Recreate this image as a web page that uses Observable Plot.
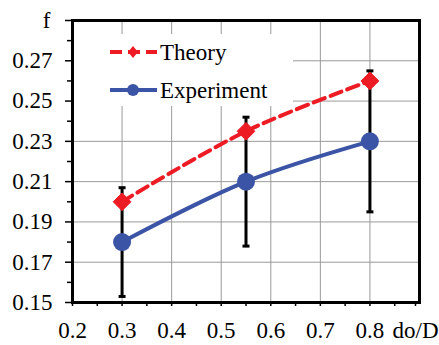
<!DOCTYPE html>
<html>
<head>
<meta charset="utf-8">
<script src="https://cdn.jsdelivr.net/npm/d3@7"></script>
<script src="https://cdn.jsdelivr.net/npm/@observablehq/plot@0.6"></script>
<style>
  html, body { margin: 0; padding: 0; background: white; }
  #wrap { position: relative; width: 439px; height: 345px; }
  #legend { position: absolute; left: 74px; top: 34px; width: 219px; height: 72px; background: white; }
  svg text { font-family: "Liberation Serif", "Times New Roman", serif; }
</style>
</head>
<body>
<div id="wrap"></div>
<script>
// Data
const xVals = [0.3, 0.55, 0.8];
const theory = [0.200, 0.235, 0.260];
const experiment = [0.180, 0.210, 0.230];
const errLow = [0.153, 0.178, 0.195];
const errHigh = [0.207, 0.242, 0.265];

const xTicks = [0.2, 0.3, 0.4, 0.5, 0.6, 0.7, 0.8];
const xTickLabels = ["0.2", "0.3", "0.4", "0.5", "0.6", "0.7", "0.8"];
const xEndTick = [0.9];
const xAxisTitle = "do/D";
const xMinor = [0.25, 0.35, 0.45, 0.55, 0.65, 0.75, 0.85];
const xGrid = [0.3, 0.4, 0.5, 0.6, 0.7, 0.8];
const yTicks = [0.15, 0.17, 0.19, 0.21, 0.23, 0.25, 0.27];
const yTickLabels = ["0.15", "0.17", "0.19", "0.21", "0.23", "0.25", "0.27"];
const yEndTick = [0.29];
const yAxisTitle = "f";
const yMinor = [0.16, 0.18, 0.20, 0.22, 0.24, 0.26, 0.28];
const yGrid = [0.17, 0.19, 0.21, 0.23, 0.25, 0.27];

const seriesNames = ["Theory", "Experiment"];
const seriesColors = ["#ed1c24", "#3b54a5"];

const theoryData = xVals.map((x, i) => ({x, y: theory[i]}));
const expData = xVals.map((x, i) => ({x, y: experiment[i]}));
const errData = xVals.map((x, i) => ({x, lo: errLow[i], hi: errHigh[i]}));

const capSymbol = { draw(ctx) { ctx.moveTo(-3.5, 0); ctx.lineTo(3.5, 0); } };

const FONT = '"Liberation Serif", "Times New Roman", serif';

const chart = Plot.plot({
  width: 439,
  height: 345,
  marginLeft: 72,
  marginRight: 20,
  marginTop: 20,
  marginBottom: 43,
  style: { fontFamily: FONT, fontSize: "23px", color: "black", background: "white" },
  x: { domain: [0.2, 0.9] },
  y: { domain: [0.15, 0.29] },
  marks: [
    Plot.gridX(xGrid, { stroke: "#9a9a9a", strokeOpacity: 1, strokeWidth: 1 }),
    Plot.gridY(yGrid, { stroke: "#9a9a9a", strokeOpacity: 1, strokeWidth: 1 }),
    Plot.axisX({ ticks: xTicks, tickFormat: (d, i) => xTickLabels[i], tickSize: 4, tickPadding: 15, strokeWidth: 1.5, label: null }),
    Plot.axisX({ ticks: xEndTick, tickFormat: () => xAxisTitle, tickSize: 4, tickPadding: 15, strokeWidth: 1.5, dx: -4, label: null }),
    Plot.axisX({ ticks: xMinor, tickFormat: () => "", tickSize: 4, strokeWidth: 1.5, label: null }),
    Plot.axisY({ ticks: yTicks, tickFormat: (d, i) => yTickLabels[i], tickSize: 7, tickPadding: 13, strokeWidth: 1.5, label: null }),
    Plot.axisY({ ticks: yEndTick, tickFormat: () => yAxisTitle, tickSize: 7, tickPadding: 15, strokeWidth: 1.5, label: null }),
    Plot.axisY({ ticks: yMinor, tickFormat: () => "", tickSize: 5, strokeWidth: 1.5, label: null }),
    Plot.ruleX(errData, { x: "x", y1: "lo", y2: "hi", stroke: "black", strokeWidth: 3 }),
    Plot.dot(errData, { x: "x", y: "lo", symbol: capSymbol, stroke: "black", strokeWidth: 3, r: 4 }),
    Plot.dot(errData, { x: "x", y: "hi", symbol: capSymbol, stroke: "black", strokeWidth: 3, r: 4 }),
    Plot.line(theoryData, { x: "x", y: "y", curve: "catmull-rom", stroke: seriesColors[0], strokeWidth: 4, strokeDasharray: "12,6" }),
    Plot.dot(theoryData, { x: "x", y: "y", symbol: "diamond2", r: 8, fill: seriesColors[0], stroke: seriesColors[0], strokeWidth: 1 }),
    Plot.line(expData, { x: "x", y: "y", curve: "catmull-rom", stroke: seriesColors[1], strokeWidth: 4 }),
    Plot.dot(expData, { x: "x", y: "y", r: 9, fill: seriesColors[1] }),
    Plot.frame({ stroke: "black", strokeWidth: 3 })
  ]
});

const wrap = document.getElementById("wrap");
wrap.appendChild(chart);

// Legend overlay
const legend = document.createElement("div");
legend.id = "legend";
const ns = "http://www.w3.org/2000/svg";
const svg = document.createElementNS(ns, "svg");
svg.setAttribute("width", 219);
svg.setAttribute("height", 72);
svg.setAttribute("font-size", "23");
svg.setAttribute("font-family", FONT);
seriesNames.forEach((name, i) => {
  const cy = i === 0 ? 18 : 56;
  const g = document.createElementNS(ns, "g");
  const ln = document.createElementNS(ns, "line");
  ln.setAttribute("x1", 36); ln.setAttribute("x2", 83);
  ln.setAttribute("y1", cy); ln.setAttribute("y2", cy);
  ln.setAttribute("stroke", seriesColors[i]);
  ln.setAttribute("stroke-width", 4);
  if (i === 0) ln.setAttribute("stroke-dasharray", "12,6");
  g.appendChild(ln);
  if (i === 0) {
    const d = document.createElementNS(ns, "path");
    d.setAttribute("d", `M59,${cy - 6}L64,${cy}L59,${cy + 6}L54,${cy}Z`);
    d.setAttribute("fill", seriesColors[i]);
    g.appendChild(d);
  } else {
    const c = document.createElementNS(ns, "circle");
    c.setAttribute("cx", 59); c.setAttribute("cy", cy); c.setAttribute("r", 6);
    c.setAttribute("fill", seriesColors[i]);
    g.appendChild(c);
  }
  const t = document.createElementNS(ns, "text");
  t.setAttribute("x", 86); t.setAttribute("y", cy);
  t.setAttribute("dy", "0.35em");
  t.textContent = name;
  g.appendChild(t);
  svg.appendChild(g);
});
legend.appendChild(svg);
wrap.appendChild(legend);
</script>
</body>
</html>
